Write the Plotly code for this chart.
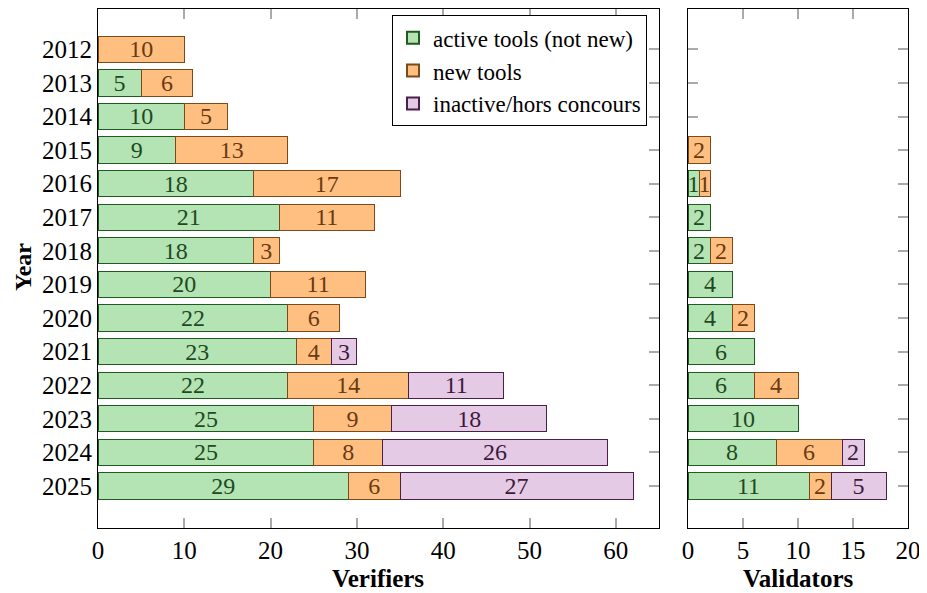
import plotly.graph_objects as go

years = list(range(2012, 2026))
ver_active = [0, 5, 10, 9, 18, 21, 18, 20, 22, 23, 22, 25, 25, 29]
ver_new = [10, 6, 5, 13, 17, 11, 3, 11, 6, 4, 14, 9, 8, 6]
ver_inactive = [0, 0, 0, 0, 0, 0, 0, 0, 0, 3, 11, 18, 26, 27]
val_active = [0, 0, 0, 0, 1, 2, 2, 4, 4, 6, 6, 10, 8, 11]
val_new = [0, 0, 0, 2, 1, 0, 2, 0, 2, 0, 4, 0, 6, 2]
val_inactive = [0, 0, 0, 0, 0, 0, 0, 0, 0, 0, 0, 0, 2, 5]
series_names = ["active tools (not new)", "new tools", "inactive/hors concours"]
x_ticks_ver = [0, 10, 20, 30, 40, 50, 60]
x_ticks_val = [0, 5, 10, 15, 20]

fills = ["#b4e3b4", "#ffbf80", "#e5cae5"]
borders = ["#1f5a1f", "#7a4a1a", "#4a1f4a"]
txtcol = ["#1f4a1f", "#6a3a12", "#3d1a3d"]
FONT = "Liberation Serif, DejaVu Serif, serif"
FS = 25

fig = go.Figure()

def nz(v):
    return [x if x else None for x in v]

groups = [
    ([ver_active, ver_new, ver_inactive], "x", "y", True),
    ([val_active, val_new, val_inactive], "x2", "y2", False),
]
for data, xa, ya, show in groups:
    for i, vals in enumerate(data):
        fig.add_trace(go.Bar(
            y=years, x=nz(vals), orientation="h",
            name=series_names[i], showlegend=show,
            xaxis=xa, yaxis=ya, width=0.78,
            marker=dict(color=fills[i], line=dict(color=borders[i], width=1)),
            text=[str(v) if v else "" for v in vals],
            textposition="inside", insidetextanchor="middle", textangle=0,
            constraintext="none",
            textfont=dict(family=FONT, size=24, color=txtcol[i]),
            cliponaxis=False,
        ))

common_y = dict(range=[2026.25, 2010.8], tickvals=years, ticks="inside", ticklen=10,
                tickcolor="#aaaaaa", tickwidth=1.5, showline=True, linecolor="black",
                linewidth=1.2, mirror="ticks", showgrid=False, zeroline=False,
                layer="below traces", automargin=False)
common_x = dict(ticks="inside", ticklen=10, tickcolor="#aaaaaa", tickwidth=1.5,
                showline=True, linecolor="black", linewidth=1.2, mirror="ticks",
                showgrid=False, zeroline=False, layer="below traces", automargin=False,
                tickfont=dict(family=FONT, size=FS, color="black"))

fig.update_layout(
    width=919, height=585,
    margin=dict(l=90, r=19, t=1, b=65),
    plot_bgcolor="white", paper_bgcolor="white",
    barmode="stack",
    font=dict(family=FONT, size=FS, color="black"),
    xaxis=dict(domain=[0, 0.6926], range=[0, 65], tickvals=x_ticks_ver, **common_x),
    xaxis2=dict(domain=[0.7284, 1], range=[0, 20], tickvals=x_ticks_val, anchor="y2",
                **common_x),
    yaxis=dict(showticklabels=True, tickfont=dict(family=FONT, size=FS, color="black"),
               **common_y),
    yaxis2=dict(anchor="x2", showticklabels=False, **common_y),
    legend=dict(x=0.6778, xanchor="right", y=0.988, yanchor="top",
                bordercolor="black", borderwidth=1, bgcolor="white",
                font=dict(family=FONT, size=23, color="black"),
                traceorder="normal", tracegroupgap=0, itemsizing="constant"),
    annotations=[
        dict(text="<b>Verifiers</b>", xref="paper", yref="paper",
             x=(370 - 90) / 810, y=-50 / 519, xanchor="center", yanchor="middle",
             showarrow=False, font=dict(family=FONT, size=FS)),
        dict(text="<b>Validators</b>", xref="paper", yref="paper",
             x=(790 - 90) / 810, y=-50 / 519, xanchor="center", yanchor="middle",
             showarrow=False, font=dict(family=FONT, size=FS)),
        dict(text="<b>Year</b>", xref="paper", yref="paper", textangle=-90,
             x=-75 / 810, y=(519 - 258) / 519, xanchor="center", yanchor="middle",
             showarrow=False, font=dict(family=FONT, size=24)),
    ],
)

fig.write_html("out.html")
